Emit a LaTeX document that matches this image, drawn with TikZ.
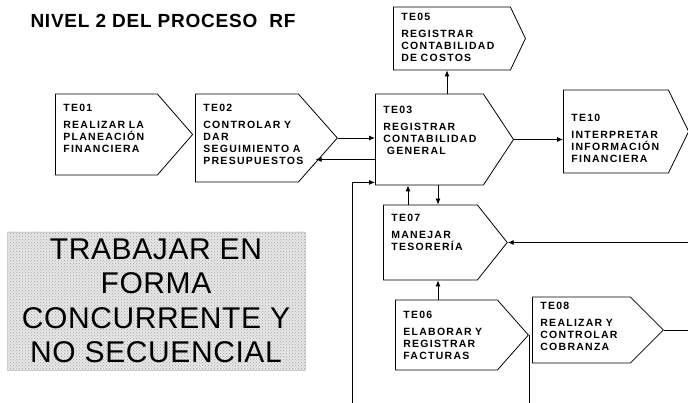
\documentclass[tikz,border=0pt]{standalone}
\usepackage{fontspec}
\newfontfamily\boxfont[LetterSpace=12]{Liberation Sans}
\newfontfamily\titfont[LetterSpace=4]{Liberation Sans}
\newfontfamily\bigfont[LetterSpace=2]{Liberation Sans}
\usetikzlibrary{shapes.symbols,arrows.meta,patterns}
\begin{document}
\begin{tikzpicture}[x=1pt,y=1pt,
  tebox/.style={signal, signal to=east, draw, line width=.8pt, anchor=west,
    align=left, inner xsep=8pt, inner ysep=8pt,
    font=\boxfont\bfseries\fontsize{10.5}{12}\selectfont},
  arr/.style={line width=.8pt, -{Latex[length=6pt,width=5pt]}},
  lin/.style={line width=.8pt}]
\useasboundingbox (0,0) rectangle (688,403);

\node[anchor=base west, font=\titfont\bfseries\fontsize{19}{22}\selectfont] (titulo) at (27,375)
{NIVEL 2 DEL PROCESO \ RF};

\node[draw=gray!40, preaction={fill=gray!18}, pattern=crosshatch dots, pattern color=gray!75,
  minimum width=298pt, minimum height=138pt, align=center,
  font=\bigfont\fontsize{30}{34.5}\selectfont] (lema) at (156,102)
{TRABAJAR EN\\FORMA\\CONCURRENTE Y\\NO SECUENCIAL};

\node[tebox, text width=86pt, text height=9.8pt, text depth=55.2pt, signal pointer angle=98] (te01) at (55,268.5)
{TE01\\[5pt]REALIZAR~LA\\PLANEACIÓN\\FINANCIERA};

\node[tebox, text width=87pt, text height=9.8pt, text depth=62.2pt, signal pointer angle=97] (te02) at (195,265)
{TE02\\[5pt]CONTROLAR~Y\\DAR\\SEGUIMIENTO~A\\PRESUPUESTOS};

\node[tebox, text width=92pt, text height=11.8pt, text depth=63.2pt, signal pointer angle=113] (te03) at (375,263.5)
{TE03\\[5pt]REGISTRAR\\CONTABILIDAD\\\ GENERAL};

\node[tebox, text width=101pt, text height=5.8pt, text depth=41.2pt, signal pointer angle=129] (te05) at (393,364.5)
{TE05\\[5pt]REGISTRAR\\CONTABILIDAD\\DE~COSTOS};

\node[tebox, text width=89pt, text height=23.8pt, text depth=43.2pt, signal pointer angle=128] (te10) at (563,271.5)
{TE10\\[5pt]INTERPRETAR\\INFORMACIÓN\\FINANCIERA};

\node[tebox, text width=78pt, text height=8.8pt, text depth=50.2pt, signal pointer angle=103] (te07) at (383,160.5)
{TE07\\[5pt]MANEJAR\\TESORERÍA};

\node[tebox, text width=86pt, text height=10.8pt, text depth=43.2pt, signal pointer angle=97] (te06) at (395,68)
{TE06\\[5pt]ELABORAR~Y\\REGISTRAR\\FACTURAS};

\node[tebox, text width=82pt, text height=4.8pt, text depth=45.2pt, signal pointer angle=90] (te08) at (532,73)
{TE08\\[5pt]REALIZAR~Y\\CONTROLAR\\COBRANZA};

% free ends at the border
\coordinate (esq) at (688,0);
\coordinate (pie) at (352,0);

\draw[arr] (te02.east) -- (te02.east -| te03.west);
\draw[arr] ([yshift=-20pt]te03.west) -- ([yshift=-20pt]te03.west -| te02.-20);
\draw[arr] (te03.east) -- (te03.east -| te10.west);
\draw[arr] ([xshift=72pt]te03.north west) -- ([xshift=72pt]te03.north west |- te05.south);
\draw[arr] ([xshift=25pt]te07.north west) -- ([xshift=25pt]te07.north west |- te03.south);
\draw[arr] ([xshift=55pt]te07.north west |- te03.south) -- ([xshift=55pt]te07.north west);
\draw[arr] ([xshift=43pt]te06.north west) -- ([xshift=43pt]te06.north west |- te07.south);
\draw[arr] (te07.east -| esq) -- (te07.east);
\draw[lin] (te08.east) -- (te08.east -| esq);
\draw[lin] (te06.east) -- (te06.east |- esq);
\draw[arr] (pie) |- ([yshift=3pt]te03.south west);
\end{tikzpicture}
\end{document}
